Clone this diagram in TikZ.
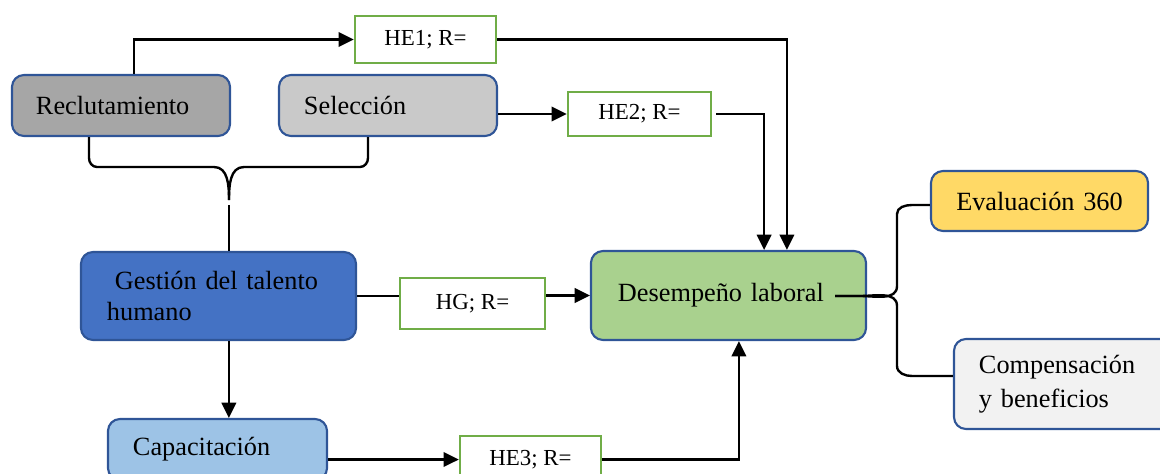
\documentclass[tikz,border=0pt]{standalone}
\usepackage{fontspec}
\setmainfont{Liberation Serif}
\usetikzlibrary{arrows.meta}

\definecolor{boxblue}{HTML}{2F5597}
\definecolor{hegreen}{HTML}{70AD47}
\definecolor{reclgray}{HTML}{A6A6A6}
\definecolor{selgray}{HTML}{C9C9C9}
\definecolor{gthblue}{HTML}{4472C4}
\definecolor{dlgreen}{HTML}{A9D18E}
\definecolor{evyellow}{HTML}{FFD966}
\definecolor{compgray}{HTML}{F2F2F2}
\definecolor{caplblue}{HTML}{9DC3E6}

\newcommand\bigtxt{\fontsize{18.7}{22.5}\selectfont}
\newcommand\hetxt{\fontsize{16.3}{19}\selectfont}

\tikzset{
  box/.style={draw=boxblue, line width=1.5pt, rounded corners=0.3cm, font=\bigtxt, align=left},
  hebox/.style={draw=hegreen, fill=white, line width=1.6pt, font=\hetxt},
  conn/.style={line width=1.7pt},
  connarr/.style={conn, -{Triangle[length=0.38cm,width=0.36cm]}}
}

\begin{document}
\begin{tikzpicture}[x=0.025cm,y=-0.025cm]
\useasboundingbox (0,0) rectangle (1160,474);
\clip (0,0) rectangle (1160,474);

% left column
\node[box, fill=reclgray, text width=4.25cm, inner xsep=0.6cm, minimum height=1.525cm] (recl) at (121,105.5) {Reclutamiento};
\node[box, fill=selgray, text width=4.2cm, inner xsep=0.625cm, minimum height=1.525cm] (sel) at (388,105.5) {Selección};
\node[box, fill=gthblue, text width=5.575cm, inner xsep=0.65cm, minimum height=2.2cm] (gth) at (218.5,296) {\hspace*{0.2cm}Gestión del talento\\humano};
\node[box, fill=caplblue, text width=4.225cm, inner xsep=0.625cm, minimum height=1.525cm] (cap) at (217.5,449.5) {Capacitación};

% hypotheses
\node[hebox, minimum width=3.525cm, minimum height=1.175cm] (he1) at (425.5,39.5) {HE1; R=};
\node[hebox, minimum width=3.575cm, minimum height=1.1cm] (he2) at (639.5,114) {HE2; R=};
\node[hebox, minimum width=3.625cm, minimum height=1.275cm] (hg) at (472.5,303.5) {HG; R=};
\node[hebox, minimum width=3.525cm, minimum height=1.175cm] (he3) at (530.5,459.5) {HE3; R=};

% right side
\node[box, fill=dlgreen, text width=5.525cm, inner xsep=0.675cm, minimum height=2.225cm] (dl) at (728.5,295.5) {Desempeño laboral};
\node[box, fill=evyellow, text width=4.225cm, inner xsep=0.6cm, minimum height=1.5cm, align=center] (ev) at (1039.5,201) {Evaluación 360};
\node[box, fill=compgray, text width=4.275cm, inner xsep=0.625cm, minimum height=2.25cm] (comp) at (1064.5,384) {Compensación\\[2pt]y beneficios};

\coordinate (tip) at (229,200);
\coordinate (tipb) at (229,205);
\coordinate (dlr) at (835,296);

% brace under the two boxes
\draw[conn] ([xshift=-0.8cm]recl.south) -- (89,158) to[out=-90,in=180] (97,167) -- (214,167) to[out=0,in=90] (tip);
\draw[conn] ([xshift=-0.5cm]sel.south) -- (368,158) to[out=-90,in=0] (360,167) -- (244,167) to[out=180,in=90] (tip);
\draw[conn] (tipb) -- (tipb |- gth.north);

\draw[connarr] ([xshift=0.325cm]recl.north) |- (he1.west);
\draw[connarr] (he1.east) -| ([xshift=1.46cm]dl.north);
\draw[connarr] (sel.east |- he2.west) -- (he2.west);
\draw[connarr] ([xshift=0.1cm]he2.east) -| ([xshift=0.89cm]dl.north);
\draw[conn] (gth.east) -- (gth.east -| hg.west);
\draw[connarr] (hg.east |- dl.west) -- (dl.west);
\draw[connarr] ([xshift=0.26cm]gth.south) -- ([xshift=0.26cm]gth.south |- cap.north);
\draw[connarr] (cap.east |- he3.west) -- (he3.west);
\draw[connarr] (he3.east) -| ([xshift=0.26cm]dl.south);

% brace to the right
\draw[conn] (dlr) -- (860,296) to[out=0,in=-90] (897,286) -- (897,214) to[out=90,in=180] (912,205) -- (ev.west |- 0,205);
\draw[conn] (dlr) -- (860,296) to[out=0,in=90] (897,306) -- (897,366) to[out=-90,in=180] (912,376) -- ([yshift=0.2cm]comp.west);
\end{tikzpicture}
\end{document}
